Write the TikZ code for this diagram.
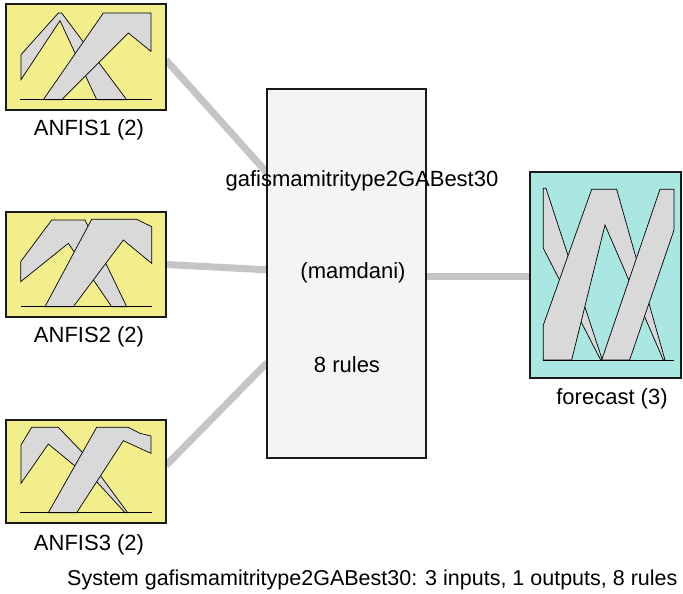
\documentclass[tikz,border=0pt]{standalone}
\usepackage{fontspec}
\setmainfont{Liberation Sans}
\usetikzlibrary{calc,backgrounds}
\definecolor{inyellow}{RGB}{243,238,140}
\definecolor{outcyan}{RGB}{170,230,226}
\definecolor{mfgray}{RGB}{217,217,217}
\definecolor{sysgray}{RGB}{244,244,244}
\definecolor{linkgray}{RGB}{196,198,196}
\begin{document}
\begin{tikzpicture}[x=1pt,y=-1pt,
  boxbase/.style={draw=black!90,line width=2.6pt,inner sep=0pt,outer sep=0pt},
  inbox/.style={boxbase,fill=inyellow,minimum width=160pt,minimum height=#1},
  sysbox/.style={boxbase,fill=sysgray,minimum width=159pt,minimum height=369pt},
  outbox/.style={boxbase,fill=outcyan,minimum width=151pt,minimum height=206pt},
  link/.style={draw=linkgray,line width=7pt},
  mf/.style={fill=mfgray,draw=black,line width=0.7pt,line join=miter},
  axisline/.style={draw=black,line width=0.8pt},
  lbl/.style={font=\fontsize{22}{26}\selectfont,inner sep=0pt},
  caplbl/.style={font=\fontsize{21.5}{26}\selectfont,inner sep=0pt}]
\useasboundingbox (0,0) rectangle (683,594);

% boxes
\node[inbox=106pt] (in1) at (86,57) {};
\node[inbox=105pt] (in2) at (86,264.5) {};
\node[inbox=103pt] (in3) at (86,471.5) {};
\node[sysbox] (sys) at (346.5,273.5) {};
\node[outbox] (out) at (605.5,275) {};

% connectors
\begin{scope}[on background layer]
\fill[white] (0,0) rectangle (683,594);
\draw[link] ($(in1.east)+(0,3)$) -- ($(sys.north west)!0.227!(sys.south west)$);
\draw[link] (in2.east) -- ($(sys.north west)!0.49!(sys.south west)$);
\draw[link] ($(in3.east)+(0,-6)$) -- ($(sys.north west)!0.742!(sys.south west)$);
\draw[link] ($(sys.east)+(0,2.5)$) -- ($(out.west)+(0,1)$);
\end{scope}

% ANFIS1 membership functions
\begin{scope}[shift={(15,8)},scale=1/3]
\draw[mf] (18,140) -- (130,15) -- (140,15) -- (335,275) -- (245,275) -- (135,38) -- (18,215) -- cycle;
\draw[mf] (85,275) -- (265,15) -- (408,15) -- (408,130) -- (340,75) -- (140,275) -- cycle;
\draw[axisline] (15,275) -- (410,275);
\end{scope}

% ANFIS2 membership functions
\begin{scope}[shift={(0,200)},scale=1/3]
\draw[mf] (62,185) -- (155,60) -- (255,60) -- (380,320) -- (335,320) -- (205,130) -- (62,245) -- cycle;
\draw[mf] (135,320) -- (275,58) -- (410,58) -- (455,80) -- (455,190) -- (370,120) -- (220,320) -- cycle;
\draw[axisline] (62,320) -- (455,320);
\end{scope}

% ANFIS3 membership functions
\begin{scope}[shift={(15,420)},scale=1/3]
\draw[mf] (18,75) -- (50,22) -- (130,22) -- (205,100) -- (260,172) -- (338,278) -- (330,278) -- (245,185) -- (180,138) -- (100,72) -- (18,190) -- cycle;
\draw[mf] (100,278) -- (245,22) -- (340,22) -- (375,40) -- (408,48) -- (408,100) -- (325,62) -- (185,278) -- cycle;
\draw[axisline] (15,278) -- (410,278);
\end{scope}

% forecast membership functions
\begin{scope}[shift={(520,160)},scale=1/3]
\draw[mf] (70,85) -- (78,85) -- (247,600) -- (242,600) -- (70,265) -- cycle;
\draw[mf] (70,600) -- (70,495) -- (215,88) -- (290,88) -- (435,600) -- (430,600) -- (255,195) -- (155,600) -- cycle;
\draw[mf] (245,600) -- (420,88) -- (462,88) -- (462,210) -- (329,600) -- cycle;
\draw[axisline] (70,600) -- (462,600);
\end{scope}

% labels
\node[lbl] (l1) at (89,130) {ANFIS1 (2)};
\node[lbl] (l2) at (89,337) {ANFIS2 (2)};
\node[lbl] (l3) at (89,545) {ANFIS3 (2)};
\node[lbl] (lo) at (612,399) {forecast (3)};
\node[lbl] (t1) at (362,181) {gafismamitritype2GABest30};
\node[lbl] (t2) at (353,273) {(mamdani)};
\node[lbl] (t3) at (347,365) {8 rules};
\node[caplbl,anchor=west] (cap) at (67,580) {System gafismamitritype2GABest30: 3 inputs, 1 outputs, 8 rules};
\end{tikzpicture}
\end{document}
